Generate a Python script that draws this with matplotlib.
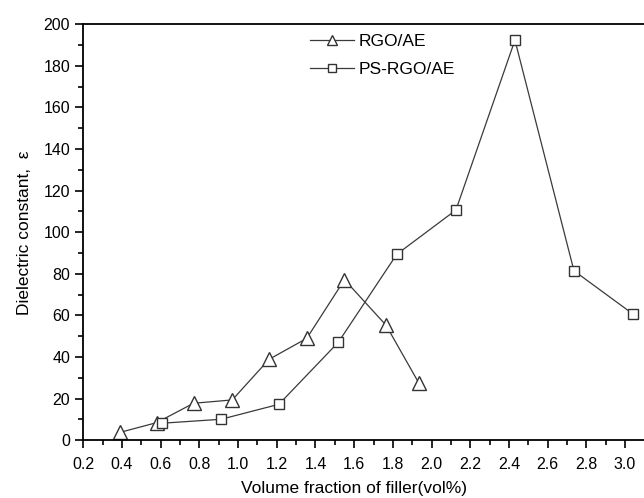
import matplotlib
matplotlib.use('Agg')
import matplotlib.pyplot as plt
from matplotlib.ticker import MultipleLocator

plt.rcParams['font.family'] = ['Liberation Sans', 'DejaVu Sans']

# RGO/AE
rgoX = [0.39, 0.58, 0.77, 0.97, 1.16, 1.355, 1.55, 1.765, 1.935]
rgoY = [3.8, 8.5, 17.8, 19.4, 38.9, 49.0, 77.2, 55.3, 27.4]

# PS-RGO/AE
psX = [0.607, 0.912, 1.211, 1.518, 1.82, 2.126, 2.431, 2.736, 3.041]
psY = [8.2, 10.1, 17.3, 47.1, 89.4, 110.7, 192.4, 81.5, 60.7]

def main():
    fig = plt.figure(figsize=(6.44, 4.98), dpi=100)
    ax = fig.add_axes([0.1293, 0.1159, 0.8707, 0.8353])

    ax.plot(rgoX, rgoY, color='#3a3a3a', lw=0.9, marker='^', ms=9.5,
            mfc='white', mec='#333333', mew=1.0, label='RGO/AE')
    ax.plot(psX, psY, color='#3a3a3a', lw=0.9, marker='s', ms=7,
            mfc='white', mec='#333333', mew=1.0, label='PS-RGO/AE')

    ax.set_xlim(0.2, 3.098)
    ax.set_ylim(0, 200)
    ax.xaxis.set_major_locator(MultipleLocator(0.2))
    ax.xaxis.set_minor_locator(MultipleLocator(0.1))
    ax.yaxis.set_major_locator(MultipleLocator(20))
    ax.yaxis.set_minor_locator(MultipleLocator(10))
    ax.set_xticks([0.2, 0.4, 0.6, 0.8, 1.0, 1.2, 1.4, 1.6, 1.8, 2.0, 2.2, 2.4, 2.6, 2.8, 3.0])
    ax.set_xticklabels(['0.2', '0.4', '0.6', '0.8', '1.0', '1.2', '1.4', '1.6', '1.8',
                        '2.0', '2.2', '2.4', '2.6', '2.8', '3.0'])
    ax.tick_params(which='both', direction='out', top=False, right=False,
                   labelsize=11.5, width=1.2, color='black')
    ax.tick_params(which='major', length=6)
    ax.tick_params(which='minor', length=3.5)
    ax.tick_params(axis='x', which='major', pad=6)

    for s in ['left', 'bottom', 'top']:
        ax.spines[s].set_linewidth(1.3)
    ax.spines['right'].set_visible(False)

    ax.set_xlabel('Volume fraction of filler(vol%)', fontsize=12.5)
    ax.xaxis.set_label_coords(0.483, -0.098)
    ax.set_ylabel('Dielectric constant,  \u03b5', fontsize=12.5, labelpad=8)

    ax.legend(loc='upper left', bbox_to_anchor=(0.377, 1.015), frameon=False,
              fontsize=12.5, handlelength=2.5, handletextpad=0.3, labelspacing=0.75,
              markerscale=0.8)

    fig.savefig('out.png', dpi=100)

if __name__ == '__main__':
    main()
